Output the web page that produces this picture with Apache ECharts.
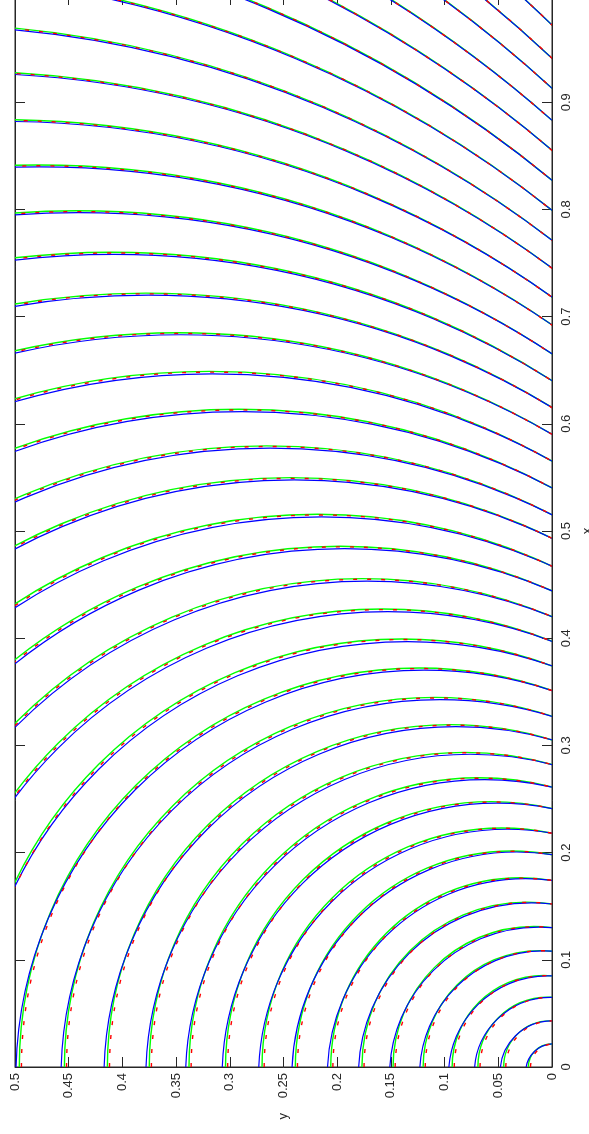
<!DOCTYPE html>
<html>
<head>
<meta charset="utf-8">
<script src="https://cdn.jsdelivr.net/npm/echarts@6/dist/echarts.min.js"></script>
<style>
html,body{margin:0;padding:0;background:#ffffff;}
#chart{width:589px;height:1134px;}
</style>
</head>
<body>
<div id="chart"></div>
<script>
// Contour levels (wave fronts), innermost first.
// x where each contour meets the line y = 0 (right edge of the picture)
const contourXAtY0 = [0.0215, 0.043, 0.065, 0.085, 0.108, 0.130, 0.152, 0.174, 0.198, 0.218,
  0.241, 0.261, 0.282, 0.305, 0.327, 0.351, 0.374, 0.397, 0.420, 0.444,
  0.467, 0.493, 0.515, 0.540, 0.565, 0.590, 0.615, 0.640, 0.665, 0.692,
  0.718, 0.745, 0.771, 0.799, 0.827, 0.855, 0.883, 0.913, 0.941, 0.972];
// y where each contour meets the line x = 0 (bottom edge; beyond 0.5 estimated)
const greenYAtX0 = [0.022, 0.045, 0.069, 0.093, 0.120, 0.148, 0.177, 0.206, 0.239, 0.270,
  0.304, 0.338, 0.375, 0.414, 0.454, 0.496, 0.539, 0.585, 0.632, 0.683,
  0.734, 0.793, 0.845, 0.905, 0.968, 1.033, 1.100, 1.170, 1.241, 1.320,
  1.399, 1.484, 1.568, 1.661, 1.757, 1.856, 1.958, 2.070, 2.178, 2.300];
const redYAtX0 = [0.020, 0.043, 0.067, 0.091, 0.118, 0.146, 0.175, 0.204, 0.237, 0.268,
  0.302, 0.336, 0.373, 0.412, 0.452, 0.494, 0.537, 0.583, 0.630, 0.681,
  0.732, 0.791, 0.843, 0.903, 0.966, 1.031, 1.098, 1.168, 1.239, 1.318,
  1.397, 1.482, 1.566, 1.659, 1.755, 1.854, 1.956, 2.068, 2.176, 2.298];
const blueYAtX0 = [0.024, 0.048, 0.072, 0.096, 0.123, 0.151, 0.180, 0.209, 0.242, 0.273,
  0.307, 0.341, 0.378, 0.417, 0.457, 0.499, 0.541, 0.587, 0.634, 0.685,
  0.736, 0.795, 0.847, 0.907, 0.970, 1.035, 1.102, 1.172, 1.243, 1.322,
  1.401, 1.486, 1.570, 1.663, 1.759, 1.858, 1.960, 2.072, 2.180, 2.302];
// how far the blue front lags inward in the middle of each arc
const blueLag = [0.0015, 0.002, 0.0025, 0.003, 0.003, 0.0035, 0.0035, 0.004, 0.004, 0.0045,
  0.0045, 0.005, 0.005, 0.005, 0.005, 0.005, 0.005, 0.005, 0.0045, 0.0045,
  0.0045, 0.004, 0.004, 0.004, 0.004, 0.0035, 0.0035, 0.0035, 0.003, 0.003,
  0.003, 0.003, 0.003, 0.003, 0.003, 0.003, 0.003, 0.003, 0.003, 0.003];

const xRange = [0, 1];     // vertical axis (x)
const yRange = [0, 0.5];   // horizontal axis (y), drawn reversed

function seriesData(yAtX0, lag) {
  return yAtX0.map(function (b, i) { return [b, contourXAtY0[i], lag ? lag[i] : 0]; });
}

function makeRender(styleObj) {
  return function (params, api) {
    const b = api.value(0);   // y at x = 0
    const a = api.value(1);   // x at y = 0
    const s = api.value(2);   // inward lag at the middle
    // circle centred on the line x = 0 passing through both crossing points
    const c = (b * b - a * a) / (2 * b);
    const R = b - c;
    let cy = c, cx = 0, r = R;
    if (s > 0) {
      const my = b / 2, mx = a / 2;
      const h = Math.hypot(b, a) / 2;
      const d = Math.hypot(my - c, mx);
      const sag = R - d - s;
      const rb = (h * h + sag * sag) / (2 * sag);
      const uy = (my - c) / d, ux = mx / d;
      cy = my - (rb - sag) * uy;
      cx = mx - (rb - sag) * ux;
      r = rb;
    }
    const p = api.coord([cy, cx]);
    const sz = api.size([r * 2, r * 2]);
    return {
      type: 'ellipse',
      shape: { cx: p[0], cy: p[1], rx: sz[0] / 2, ry: sz[1] / 2 },
      style: Object.assign({ fill: 'none' }, styleObj),
      silent: true
    };
  };
}

const axisColor = '#262626';
const labelFont = { fontFamily: 'Liberation Sans, Arial, sans-serif', fontSize: 13, color: '#262626' };

const chart = echarts.init(document.getElementById('chart'), null, { renderer: 'canvas' });
chart.setOption({
  animation: false,
  backgroundColor: '#ffffff',
  grid: {
    left: 15, right: 37, top: -5, bottom: 67, containLabel: false, outerBoundsMode: 'none',
    show: true, borderColor: axisColor, borderWidth: 1, backgroundColor: 'transparent'
  },
  xAxis: [
    {
      type: 'value', position: 'bottom', min: yRange[0], max: yRange[1], interval: 0.05, inverse: true,
      name: 'y', nameLocation: 'middle', nameGap: 46, nameRotate: 90, nameTextStyle: labelFont,
      axisLine: { show: true, onZero: false, lineStyle: { color: axisColor, width: 1 } },
      axisTick: { show: true, inside: true, length: 10, lineStyle: { color: axisColor } },
      axisLabel: Object.assign({ rotate: 90, margin: 6 }, labelFont),
      splitLine: { show: false }
    },
    {
      type: 'value', position: 'top', min: yRange[0], max: yRange[1], interval: 0.05, inverse: true,
      axisLine: { show: true, onZero: false, lineStyle: { color: axisColor, width: 1 } },
      axisTick: { show: true, inside: true, length: 10, lineStyle: { color: axisColor } },
      axisLabel: { show: false },
      splitLine: { show: false }
    }
  ],
  yAxis: [
    {
      type: 'value', position: 'right', min: xRange[0], max: xRange[1], interval: 0.1,
      name: 'x', nameLocation: 'middle', nameGap: 28, nameRotate: 90,
      nameTextStyle: Object.assign({ align: 'center', verticalAlign: 'middle' }, labelFont),
      axisLine: { show: true, onZero: false, lineStyle: { color: axisColor, width: 1 } },
      axisTick: { show: true, inside: true, length: 10, lineStyle: { color: axisColor } },
      axisLabel: Object.assign({ rotate: 90, margin: 8, align: 'center', verticalAlign: 'top', showMaxLabel: false }, labelFont),
      splitLine: { show: false }
    },
    {
      type: 'value', position: 'left', min: xRange[0], max: xRange[1], interval: 0.1,
      axisLine: { show: true, onZero: false, lineStyle: { color: axisColor, width: 1 } },
      axisTick: { show: true, inside: true, length: 10, lineStyle: { color: axisColor } },
      axisLabel: { show: false },
      splitLine: { show: false }
    }
  ],
  series: [
    {
      type: 'custom', name: 'green', coordinateSystem: 'cartesian2d', clip: true,
      renderItem: makeRender({ stroke: '#00ff00', lineWidth: 1.4 }),
      data: seriesData(greenYAtX0, null), z: 2
    },
    {
      type: 'custom', name: 'blue', coordinateSystem: 'cartesian2d', clip: true,
      renderItem: makeRender({ stroke: '#0000ff', lineWidth: 1.2 }),
      data: seriesData(blueYAtX0, blueLag), z: 3
    },
    {
      type: 'custom', name: 'red', coordinateSystem: 'cartesian2d', clip: true,
      renderItem: makeRender({ stroke: '#ff0000', lineWidth: 1.4, lineDash: [4, 10] }),
      data: seriesData(redYAtX0, null), z: 4
    }
  ]
});
</script>
</body>
</html>
